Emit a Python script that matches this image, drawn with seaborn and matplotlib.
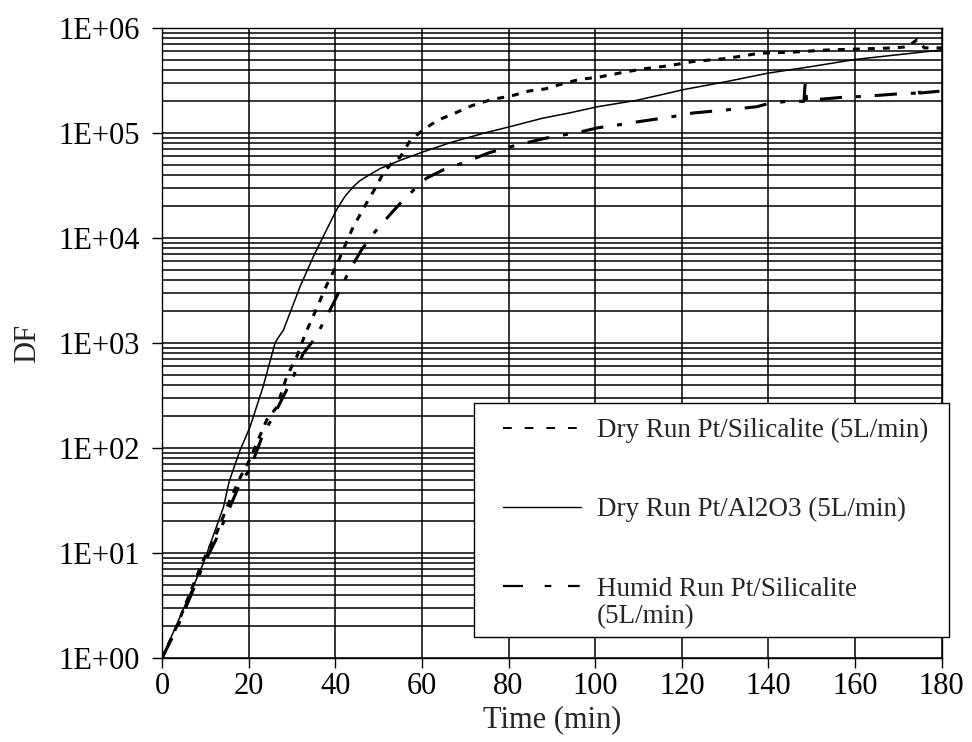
import matplotlib
matplotlib.use("Agg")
import matplotlib.pyplot as plt
from matplotlib.lines import Line2D
from matplotlib.patches import Rectangle
from matplotlib.ticker import LogLocator, NullFormatter, FixedLocator, FixedFormatter
import seaborn as sns

# Dry run, Pt/Silicalite (5 L/min)
time_dry_sil = [0, 3.4, 6.5, 9.5, 12.6, 15.7, 18, 20.3, 21.9, 24.2, 26.5, 28.8, 31.1, 33,
                35.7, 38, 40.3, 43, 44.2, 45.7, 47.6, 49.6, 51.1, 53.4, 55, 57.3, 60.3, 63.6,
                67.7, 71.5, 76.2, 80.4, 84.7, 88.5, 91.7, 96.4, 100.6, 106.8, 111, 117,
                122.6, 130.4, 138, 145.7, 153.5, 161.2, 168.8, 172, 174.4, 176, 180]
df_dry_sil = [1, 2.0, 4.2, 8.5, 15.5, 32, 52, 78, 112, 186, 245, 480, 740, 1200,
              2140, 3550, 5500, 10000, 12900, 16600, 22900, 31600, 41700, 53700, 58900,
              85100, 107000, 132000, 155000, 182000, 209000, 224000, 251000, 263000,
              288000, 324000, 339000, 380000, 407000, 437000, 479000, 513000, 575000,
              589000, 617000, 631000, 646000, 661000, 776000, 646000, 646000]

# Dry run, Pt/Al2O3 (5 L/min)
time_dry_al = [0, 4.9, 9.5, 14.2, 15.5, 18, 20.3, 23.3, 26.1, 26.8, 28, 31.9, 34.9, 37.3,
               40.3, 42.3, 44.2, 45.5, 47, 50.3, 55, 60.3, 66.7, 74.5, 80.4, 87.8, 94,
               100.6, 109.4, 117, 120, 130.4, 140, 149.6, 160, 168.8, 180]
df_dry_al = [1, 2.9, 7.9, 27.5, 48, 95, 158, 380, 1000, 1120, 1320, 3470, 6600, 10500,
             18600, 25100, 30900, 34700, 38000, 45700, 55000, 66100, 81300, 100000,
             115000, 138000, 155000, 178000, 204000, 240000, 257000, 309000, 372000,
             427000, 501000, 550000, 617000]

# Humid run, Pt/Silicalite (5 L/min)
time_humid_sil = [0, 3.4, 6.5, 9.5, 12.6, 15.7, 18, 20.3, 23.4, 25.7, 28, 30.3, 32.6, 35.3,
                  39.6, 41.5, 43.4, 46.1, 48.8, 51.5, 55, 58.4, 61.1, 65, 69.2, 75.4, 81.5,
                  88.5, 96.4, 100.6, 105.7, 110.5, 117, 122.6, 130.4, 137.4, 140, 144.3,
                  148.2, 148.5, 148.8, 157.3, 162.8, 168.8, 174.3, 174.6, 174.9, 180]
df_humid_sil = [1, 1.9, 3.8, 7.6, 13.8, 27.5, 46, 63, 138, 200, 309, 479, 794, 1100,
                2400, 3500, 5010, 7760, 11000, 14800, 21400, 29500, 37200, 44700,
                51300, 64600, 75900, 89100, 102000, 112000, 120000, 129000, 141000,
                155000, 166000, 178000, 191000, 200000, 200000, 302000, 204000, 219000,
                224000, 234000, 240000, 282000, 240000, 251000]

x_ticks = [0, 20, 40, 60, 80, 100, 120, 140, 160, 180]
y_ticks = [1e0, 1e1, 1e2, 1e3, 1e4, 1e5, 1e6]
y_tick_labels = ["1E+00", "1E+01", "1E+02", "1E+03", "1E+04", "1E+05", "1E+06"]

series_labels = ["Dry Run Pt/Silicalite (5L/min)",
                 "Dry Run Pt/Al2O3 (5L/min)",
                 "Humid Run Pt/Silicalite"]
humid_label_tail = "(5L/min)"

sns.set_style("ticks")
plt.rcParams["font.family"] = ["Liberation Serif", "DejaVu Serif"]
plt.rcParams["lines.scale_dashes"] = False

fig = plt.figure(figsize=(9.72, 7.42), dpi=100)
ax = fig.add_axes([0.1667, 0.1132, 0.8021, 0.8491])

sns.lineplot(x=time_dry_sil, y=df_dry_sil, ax=ax, color="black", lw=2.2,
             linestyle=(0, (5.0, 5.8)), estimator=None, sort=False, zorder=3)
sns.lineplot(x=time_dry_al, y=df_dry_al, ax=ax, color="black", lw=1.1,
             linestyle="-", estimator=None, sort=False, zorder=3)
sns.lineplot(x=time_humid_sil, y=df_humid_sil, ax=ax, color="black", lw=2.2,
             linestyle=(0, (16, 10, 3.6, 10)), estimator=None, sort=False, zorder=3)

ax.set_yscale("log")
ax.set_xlim(0, 180)
ax.set_ylim(1, 1e6)

ax.xaxis.set_major_locator(FixedLocator(x_ticks))
ax.yaxis.set_major_locator(FixedLocator(y_ticks))
ax.yaxis.set_major_formatter(FixedFormatter(y_tick_labels))
ax.yaxis.set_minor_locator(LogLocator(base=10, subs=range(2, 10), numticks=20))
ax.yaxis.set_minor_formatter(NullFormatter())

ax.set_axisbelow(True)
ax.grid(which="both", axis="y", color="black", lw=1.1)
ax.grid(which="major", axis="x", color="black", lw=1.1)

ax.tick_params(axis="both", which="major", direction="out", length=7, width=1,
               color="black", labelsize=22, labelcolor="black")
ax.tick_params(axis="x", which="major", pad=3)
ax.tick_params(axis="y", which="major", pad=9)
ax.tick_params(axis="y", which="minor", length=0)

for side in ["left", "bottom", "top", "right"]:
    ax.spines[side].set_visible(True)
    ax.spines[side].set_color("black")
    ax.spines[side].set_linewidth(1.0)

ax.set_xlabel("Time (min)", fontsize=22, labelpad=3)
ax.set_ylabel("DF", fontsize=22)
ax.yaxis.set_label_coords(-0.1536, 0.5)

# legend box
fig.add_artist(Rectangle((474 / 972, 1 - 637 / 742), (949 - 474) / 972, (637 - 403) / 742,
                         transform=fig.transFigure, facecolor="white",
                         edgecolor="black", lw=1.0, zorder=3))

handles = [
    Line2D([], [], color="black", lw=1.4, linestyle=(0, (6.3, 9.3))),
    Line2D([], [], color="black", lw=1.0, linestyle="-"),
    Line2D([], [], color="black", lw=1.6, linestyle=(0, (14.4, 15.6, 4.8, 12, 8.4, 10))),
]
fig.legend(handles=handles, labels=series_labels, loc="upper left",
           bbox_to_anchor=(503 / 972, 1 - 418 / 742), frameon=False,
           borderpad=0, borderaxespad=0, handlelength=2.88, handletextpad=0.59,
           labelspacing=2.0, fontsize=19.5)
fig.text(597 / 972, 1 - 617 / 742, humid_label_tail, fontsize=19.5,
         ha="left", va="center", zorder=6)

fig.savefig("out.png", dpi=100)
